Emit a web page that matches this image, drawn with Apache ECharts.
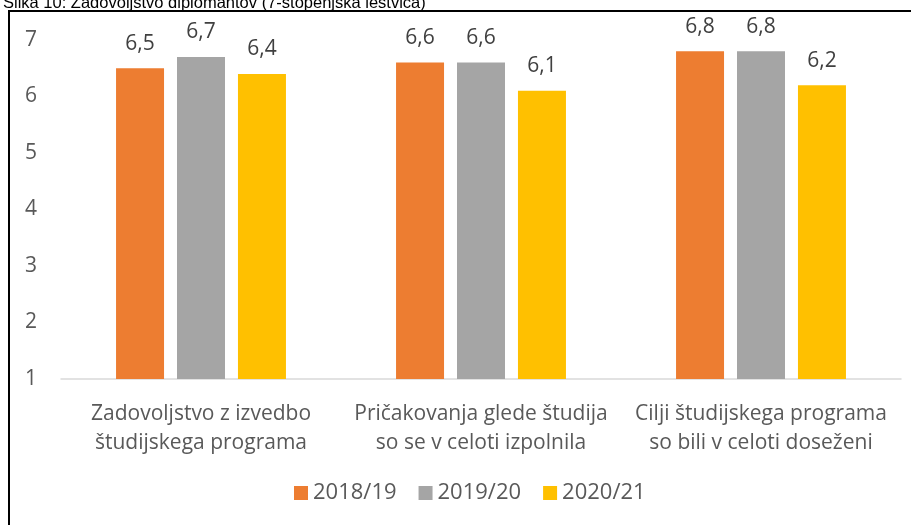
<!DOCTYPE html>
<html>
<head>
<meta charset="utf-8">
<script src="https://cdn.jsdelivr.net/npm/echarts@6/dist/echarts.min.js"></script>
<style>
  html, body { margin: 0; padding: 0; background: #fff; }
  #chart { width: 911px; height: 525px; }
</style>
</head>
<body>
<div id="chart"></div>
<script>
// podatki
const categories = [
  'Zadovoljstvo z izvedbo\nštudijskega programa',
  'Pričakovanja glede študija\nso se v celoti izpolnila',
  'Cilji študijskega programa\nso bili v celoti doseženi'
];
const seriesNames = ['2018/19', '2019/20', '2020/21'];
const values2018 = [6.5, 6.6, 6.8];
const values2019 = [6.7, 6.6, 6.8];
const values2020 = [6.4, 6.1, 6.2];
const colors = ['#ED7D31', '#A5A5A5', '#FFC000'];
const yTicks = [1, 7, 1]; // min, max, interval

const font = '"Open Sans", sans-serif';
const textColor = '#595959';

let myChart = echarts.init(document.getElementById('chart'));

function makeSeries(name, data, color) {
  return {
    name: name,
    type: 'bar',
    data: data,
    barWidth: 48,
    barGap: '27%',
    itemStyle: { color: color },
    label: {
      show: true,
      position: 'top',
      distance: 14,
      color: '#404040',
      fontFamily: font,
      fontSize: 21,
      formatter: p => String(p.value).replace('.', ',')
    }
  };
}

let option = {
  animation: false,
  graphic: [
    {
      type: 'text',
      left: 3,
      top: -5,
      style: {
        text: 'Slika 10: Zadovoljstvo diplomantov (7-stopenjska lestvica)',
        font: '16.5px "Liberation Sans", Arial, sans-serif',
        fill: '#000'
      }
    },
    {
      type: 'rect',
      shape: { x: 9, y: 11, width: 920, height: 530 },
      style: { fill: '#fff', stroke: '#000', lineWidth: 2 },
      silent: true,
      z: -1
    }
  ],
  legend: {
    bottom: 16,
    left: 289,
    itemWidth: 14,
    itemHeight: 14,
    itemGap: 22,
    icon: 'rect',
    textStyle: { color: textColor, fontFamily: font, fontSize: 22 },
    data: seriesNames
  },
  grid: {
    left: 61,
    right: 10,
    top: 40,
    bottom: 146,
    containLabel: false
  },
  xAxis: {
    type: 'category',
    data: categories,
    axisLine: { lineStyle: { color: '#D9D9D9', width: 1.5 } },
    axisTick: { show: false },
    axisLabel: {
      color: textColor,
      fontFamily: font,
      fontSize: 21,
      lineHeight: 29,
      margin: 21,
      interval: 0
    }
  },
  yAxis: {
    type: 'value',
    min: yTicks[0],
    max: yTicks[1],
    interval: yTicks[2],
    splitLine: { show: false },
    axisLine: { show: false },
    axisTick: { show: false },
    axisLabel: {
      color: textColor,
      fontFamily: font,
      fontSize: 21,
      margin: 24
    }
  },
  series: [
    makeSeries(seriesNames[0], values2018, colors[0]),
    makeSeries(seriesNames[1], values2019, colors[1]),
    makeSeries(seriesNames[2], values2020, colors[2])
  ]
};
myChart.setOption(option);
</script>
</body>
</html>
